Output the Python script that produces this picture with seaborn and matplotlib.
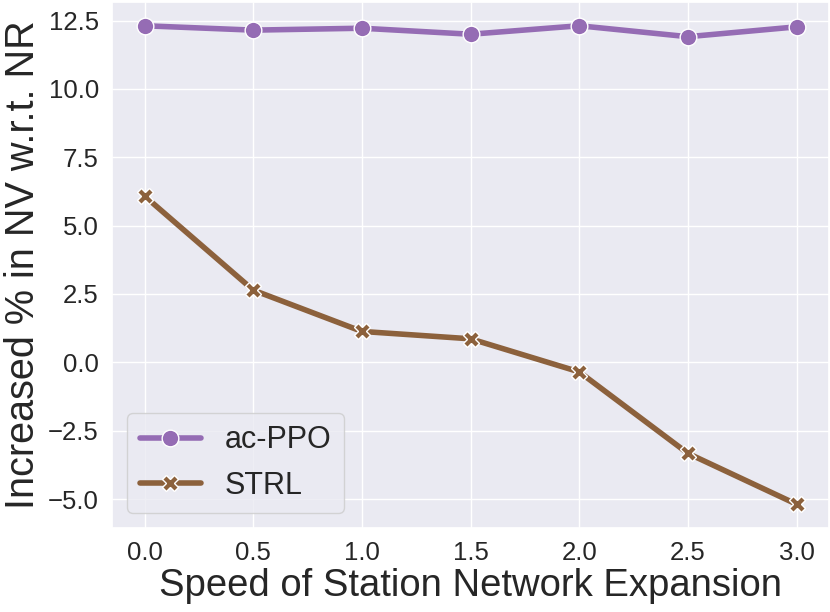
import numpy as np
import pandas as pd
import matplotlib
matplotlib.use("Agg")
import matplotlib.pyplot as plt
import seaborn as sns

# values
speeds = [0.0, 0.5, 1.0, 1.5, 2.0, 2.5, 3.0]
ac_ppo = [12.31, 12.15, 12.22, 12.00, 12.31, 11.91, 12.27]
strl = [6.08, 2.64, 1.13, 0.86, -0.35, -3.33, -5.19]
methods = ["ac-PPO", "STRL"]

df = pd.DataFrame({
    "speed": speeds * 2,
    "value": ac_ppo + strl,
    "method": [methods[0]] * len(speeds) + [methods[1]] * len(speeds),
})

sns.set_theme(style="darkgrid")
plt.rcParams["font.family"] = ["Liberation Sans", "DejaVu Sans"]

muted = sns.color_palette("muted")
palette = {"ac-PPO": muted[4], "STRL": muted[5]}

fig, ax = plt.subplots(figsize=(8.3, 6.12), dpi=100)
fig.subplots_adjust(left=0.135, right=0.999, top=0.997, bottom=0.137)

sns.lineplot(data=df, x="speed", y="value", hue="method", style="method",
             markers=["o", "X"], dashes=False, palette=palette,
             linewidth=4, markersize=12, markeredgecolor="white",
             markeredgewidth=1, ax=ax)

ax.set_xticks(speeds)
ax.set_yticks([-5.0, -2.5, 0.0, 2.5, 5.0, 7.5, 10.0, 12.5])
ax.tick_params(axis="both", labelsize=18.5)
ax.set_xlabel("Speed of Station Network Expansion", fontsize=27.5, labelpad=2)
ax.set_ylabel("Increased % in NV w.r.t. NR", fontsize=28.5, labelpad=4)
ax.legend(loc="lower left", fontsize=22, title=None)

fig.savefig("out.png", dpi=100)
